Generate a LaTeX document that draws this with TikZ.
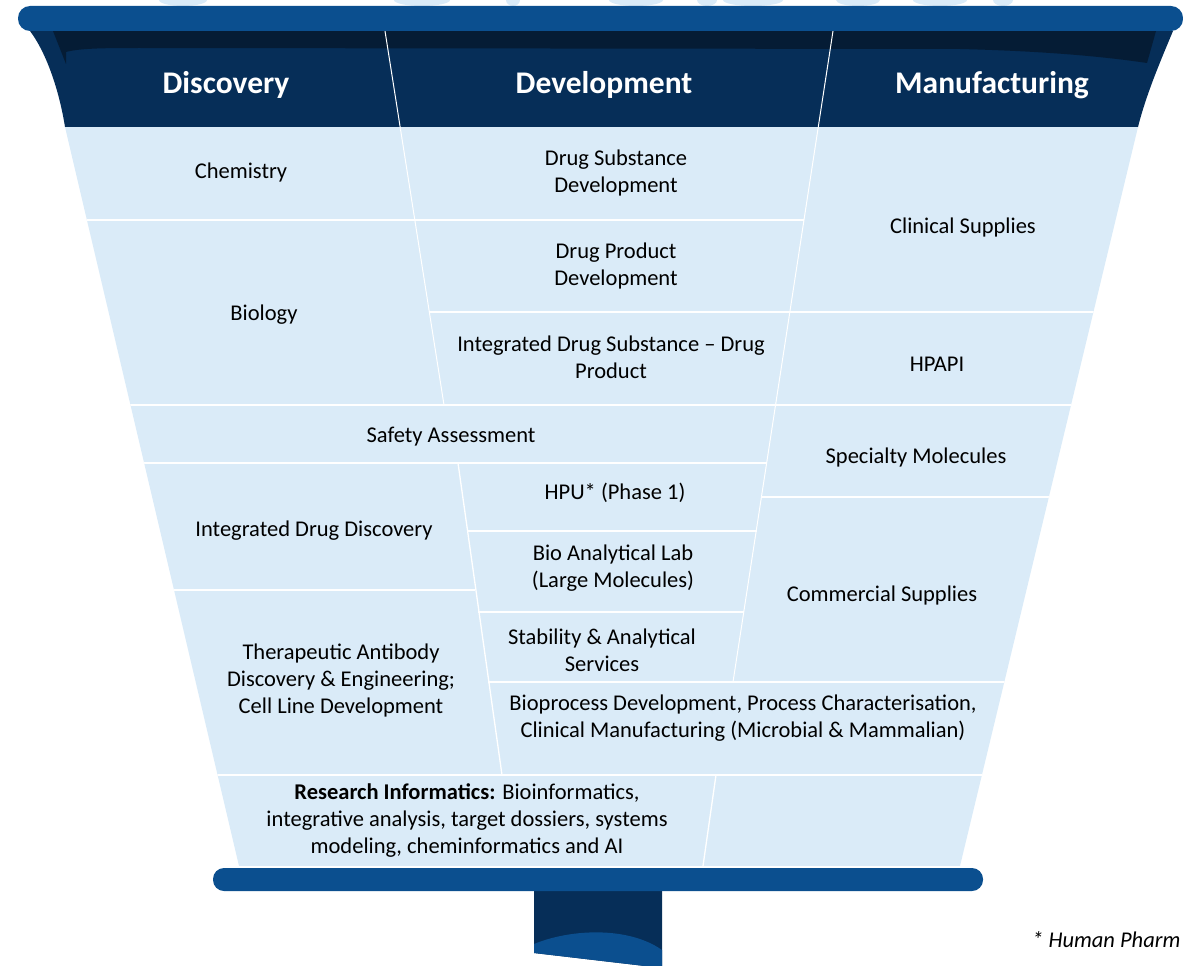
\documentclass[tikz,border=0pt]{standalone}
\usepackage{fontspec}
\setmainfont{Carlito}
\definecolor{rimblue}{HTML}{0B4F8F}
\definecolor{headnavy}{HTML}{062E58}
\definecolor{shadenavy}{HTML}{051C35}
\definecolor{cellblue}{HTML}{DAEBF8}

\begin{document}
\begin{tikzpicture}[
        x=1pt, y=-1pt,
        cellline/.style = {white, line width=1.3pt},
        head/.style = {
            text=white,
            inner sep=0pt,
            yshift=-2pt,
            font=\bfseries\fontsize{31.5}{36}\selectfont
        },
        cell/.style = {
            align=center,
            inner sep=0pt,
            yshift=-2pt,
            font=\fontsize{22.5}{27}\selectfont
        },
        note/.style = {inner sep=0pt, font=\itshape\fontsize{22.5}{27}\selectfont}
    ]
    \useasboundingbox (0,0) rectangle (1183,966);

    % faint shapes cut off at the top edge
    \begin{scope}
        \clip (0,0) rectangle (1183,966);
        \foreach \cx/\rx in {183/24, 422/28, 513/7, 636/27, 707/10, 753/30, 858/22, 940/27, 1003/10}
            \fill[cellblue] (\cx,0) ellipse [x radius=\rx, y radius=6];
    \end{scope}

    % stem below the funnel
    \fill[headnavy] (534,885) -- (662,885) -- (662,968) -- (534,953) -- cycle;
    \fill[rimblue] (534,944) .. controls (570,929) and (628,926) .. (662,950)
        -- (662,968) -- (534,953) -- cycle;

    % header of the funnel
    \fill[headnavy] (30,31) -- (1173,31) .. controls (1160,62) and (1146,95) .. (1138,127)
        -- (65,127) .. controls (60,95) and (48,55) .. (30,31) -- cycle;
    \fill[shadenavy] (53,31) -- (66,64) -- (66,52) .. controls (80,48) and (110,48) .. (140,48)
        -- (960,49) .. controls (1040,51) and (1100,56) .. (1147,63) -- (1156,31) -- cycle;

    % body of the funnel
    \begin{scope}
        \clip (65,127) -- (1138,127) -- (960,866) -- (239,866) -- cycle;
        \fill[cellblue] (0,127) rectangle (1183,866);
        \draw[cellline] (0,220) -- (804,220);
        \draw[cellline] (429,312) -- (1183,312);
        \draw[cellline] (0,405) -- (1183,405);
        \draw[cellline] (0,463) -- (767,463);
        \draw[cellline] (761,497) -- (1183,497);
        \draw[cellline] (467,531) -- (757,531);
        \draw[cellline] (0,590) -- (475,590);
        \draw[cellline] (478,612) -- (744,612);
        \draw[cellline] (488,682) -- (1183,682);
        \draw[cellline] (0,775) -- (1183,775);
        \draw[cellline] (458,463) -- (502,775);
        \draw[cellline] (716,775) -- (703,866);
    \end{scope}
    \draw[cellline, line width=1pt] (385,31) -- (444,405);
    \draw[cellline, line width=1pt] (833,31) -- (733,682);

    % rims
    \fill[rimblue, rounded corners=12pt] (18,6) rectangle (1183,31);
    \fill[rimblue, rounded corners=11pt] (213,868) rectangle (983,891);

    % column titles
    \node[head] (disc) at (226,83) {Discovery};
    \node[head] (dev) at (604,83) {Development};
    \node[head] (manu) at (992,83) {Manufacturing};

    % cells
    \node[cell] (chem) at (241,171) {Chemistry};
    \node[cell] (dsd) at (616,171) {Drug Substance\\Development};
    \node[cell] (clin) at (963,225) {Clinical Supplies};
    \node[cell] (dpd) at (616,264) {Drug Product\\Development};
    \node[cell] (bio) at (264,313) {Biology};
    \node[cell] (idsdp) at (611,355) {Integrated Drug Substance – Drug\\Product};
    \node[cell] (hpapi) at (937,362) {HPAPI};
    \node[cell] (safety) at (451,435) {Safety Assessment};
    \node[cell] (spec) at (916,455) {Specialty Molecules};
    \node[cell] (hpu) at (615,491) {HPU* (Phase 1)};
    \node[cell] (idd) at (314,529) {Integrated Drug Discovery};
    \node[cell] (bal) at (613,566) {Bio Analytical Lab\\(Large Molecules)};
    \node[cell] (comm) at (882,593) {Commercial Supplies};
    \node[cell] (stab) at (602,648) {Stability \& Analytical\\Services};
    \node[cell] (tab) at (341,678) {Therapeutic Antibody\\Discovery \& Engineering;\\Cell Line Development};
    \node[cell] (bpd) at (743,716) {Bioprocess Development, Process Characterisation,\\Clinical Manufacturing (Microbial \& Mammalian)};
    \node[cell] (ri) at (467,819) {\textbf{Research Informatics:} Bioinformatics,\\integrative analysis, target dossiers, systems\\modeling, cheminformatics and AI};

    \node[note, anchor=west] (foot) at (1032,940) {* Human Pharm};
\end{tikzpicture}
\end{document}
